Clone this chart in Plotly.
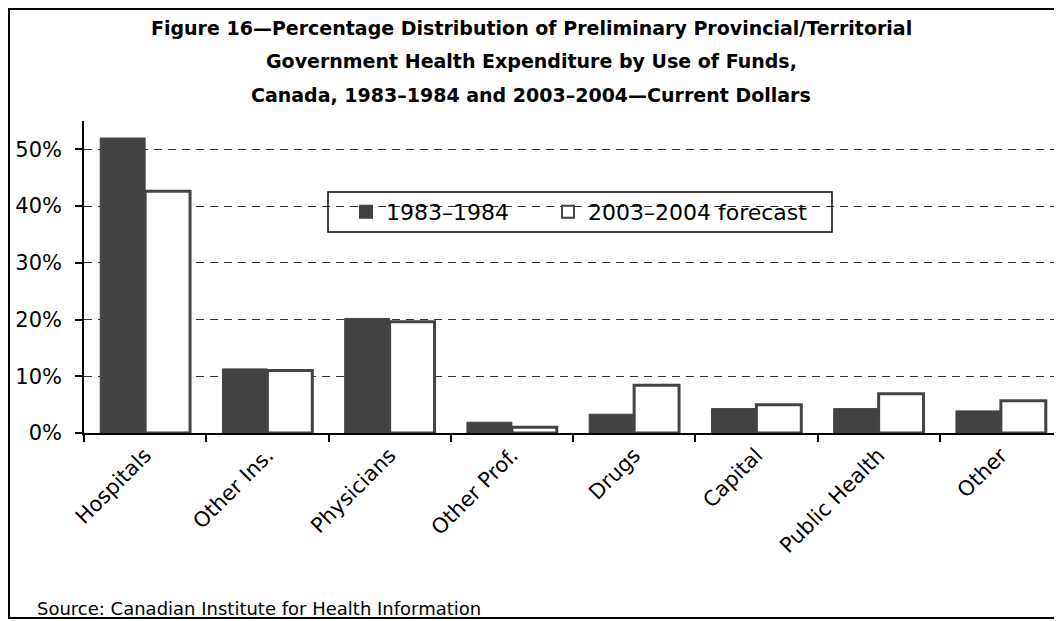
import plotly.graph_objects as go

categories = ["Hospitals", "Other Ins.", "Physicians", "Other Prof.", "Drugs",
              "Capital", "Public Health", "Other"]
series_names = ["1983\u20131984", "2003\u20132004 forecast"]
values_1983 = [0.520, 0.113, 0.202, 0.019, 0.033, 0.043, 0.043, 0.039]
values_2003 = [0.426, 0.110, 0.196, 0.010, 0.084, 0.050, 0.069, 0.057]
title_lines = [
    "Figure 16\u2014Percentage Distribution of Preliminary Provincial/Territorial",
    "Government Health Expenditure by Use of Funds,",
    "Canada, 1983\u20131984 and 2003\u20132004\u2014Current Dollars",
]
source_text = "Source: Canadian Institute for Health Information"

# The page body adds an 8px margin, so the figure is sized / offset to compensate.
OFF = 8
W, H = 1062 - OFF, 621 - OFF
L, R, T, B = 84 - OFF, 0, 121 - OFF, 621 - 433
PW, PH = W - L - R, H - T - B


def px_x(x):
    """page x (reference pixels) -> paper coordinate"""
    return (x - OFF - L) / PW


def px_y(y):
    """page y (reference pixels) -> paper coordinate"""
    return (H - B - (y - OFF)) / PH


FONT = "DejaVu Sans"
DARK = "#424242"

fig = go.Figure()
fig.add_trace(go.Bar(
    x=categories, y=values_1983, name=series_names[0],
    marker=dict(color=DARK, line=dict(color=DARK, width=1)),
    legendwidth=157,
))
fig.add_trace(go.Bar(
    x=categories, y=values_2003, name=series_names[1],
    marker=dict(color="white", line=dict(color="#444444", width=3)),
    legendwidth=230,
))

annotations = []
for ty, line in zip([28, 61, 95], title_lines):
    annotations.append(dict(
        text="<b>" + line + "</b>", x=px_x(531), y=px_y(ty), xref="paper", yref="paper",
        xanchor="center", yanchor="middle", showarrow=False,
        font=dict(family="DejaVu Sans", size=19, color="black"),
    ))
annotations.append(dict(
    text=source_text, x=px_x(35), y=px_y(608), xref="paper", yref="paper",
    xanchor="left", yanchor="middle", showarrow=False,
    font=dict(family=FONT, size=18, color="black"),
))

shapes = [
    # legend frame
    dict(type="rect", xref="paper", yref="paper",
         x0=px_x(328), x1=px_x(832), y0=px_y(232), y1=px_y(192),
         line=dict(color="black", width=1.5), fillcolor="rgba(0,0,0,0)", layer="above"),
    # outer chart frame
    dict(type="rect", xref="paper", yref="paper",
         x0=px_x(9), x1=px_x(1075), y0=px_y(618), y1=px_y(9),
         line=dict(color="black", width=2), fillcolor="rgba(0,0,0,0)", layer="below"),
]

fig.update_layout(
    width=W, height=H,
    margin=dict(l=L, r=R, t=T, b=B, pad=0),
    paper_bgcolor="white", plot_bgcolor="white",
    barmode="group", bargap=0.265, bargroupgap=0,
    font=dict(family=FONT, size=18, color="black"),
    showlegend=True,
    legend=dict(
        orientation="h", x=px_x(346), y=px_y(212), xanchor="left", yanchor="middle",
        bgcolor="rgba(0,0,0,0)", borderwidth=0,
        font=dict(family=FONT, size=22, color="black"),
        itemsizing="constant", traceorder="normal",
    ),
    xaxis=dict(
        showline=True, linecolor="black", linewidth=1.5,
        ticks="outside", tickson="boundaries", ticklen=7, tickcolor="black", tickwidth=1.5,
        tickangle=-45, tickfont=dict(family=FONT, size=21, color="black"),
        showgrid=False, fixedrange=True,
    ),
    yaxis=dict(
        range=[0, 0.55], dtick=0.1, tick0=0, tickformat=".0%",
        showline=True, linecolor="black", linewidth=1.5,
        ticks="outside", ticklen=7, tickcolor="black", tickwidth=1.5,
        ticklabelstandoff=9,
        tickfont=dict(family=FONT, size=21, color="black"),
        showgrid=True, gridcolor="#333333", gridwidth=1, griddash="8px,6px",
        zeroline=False,
    ),
    annotations=annotations,
    shapes=shapes,
)

fig.write_html("out.html")
